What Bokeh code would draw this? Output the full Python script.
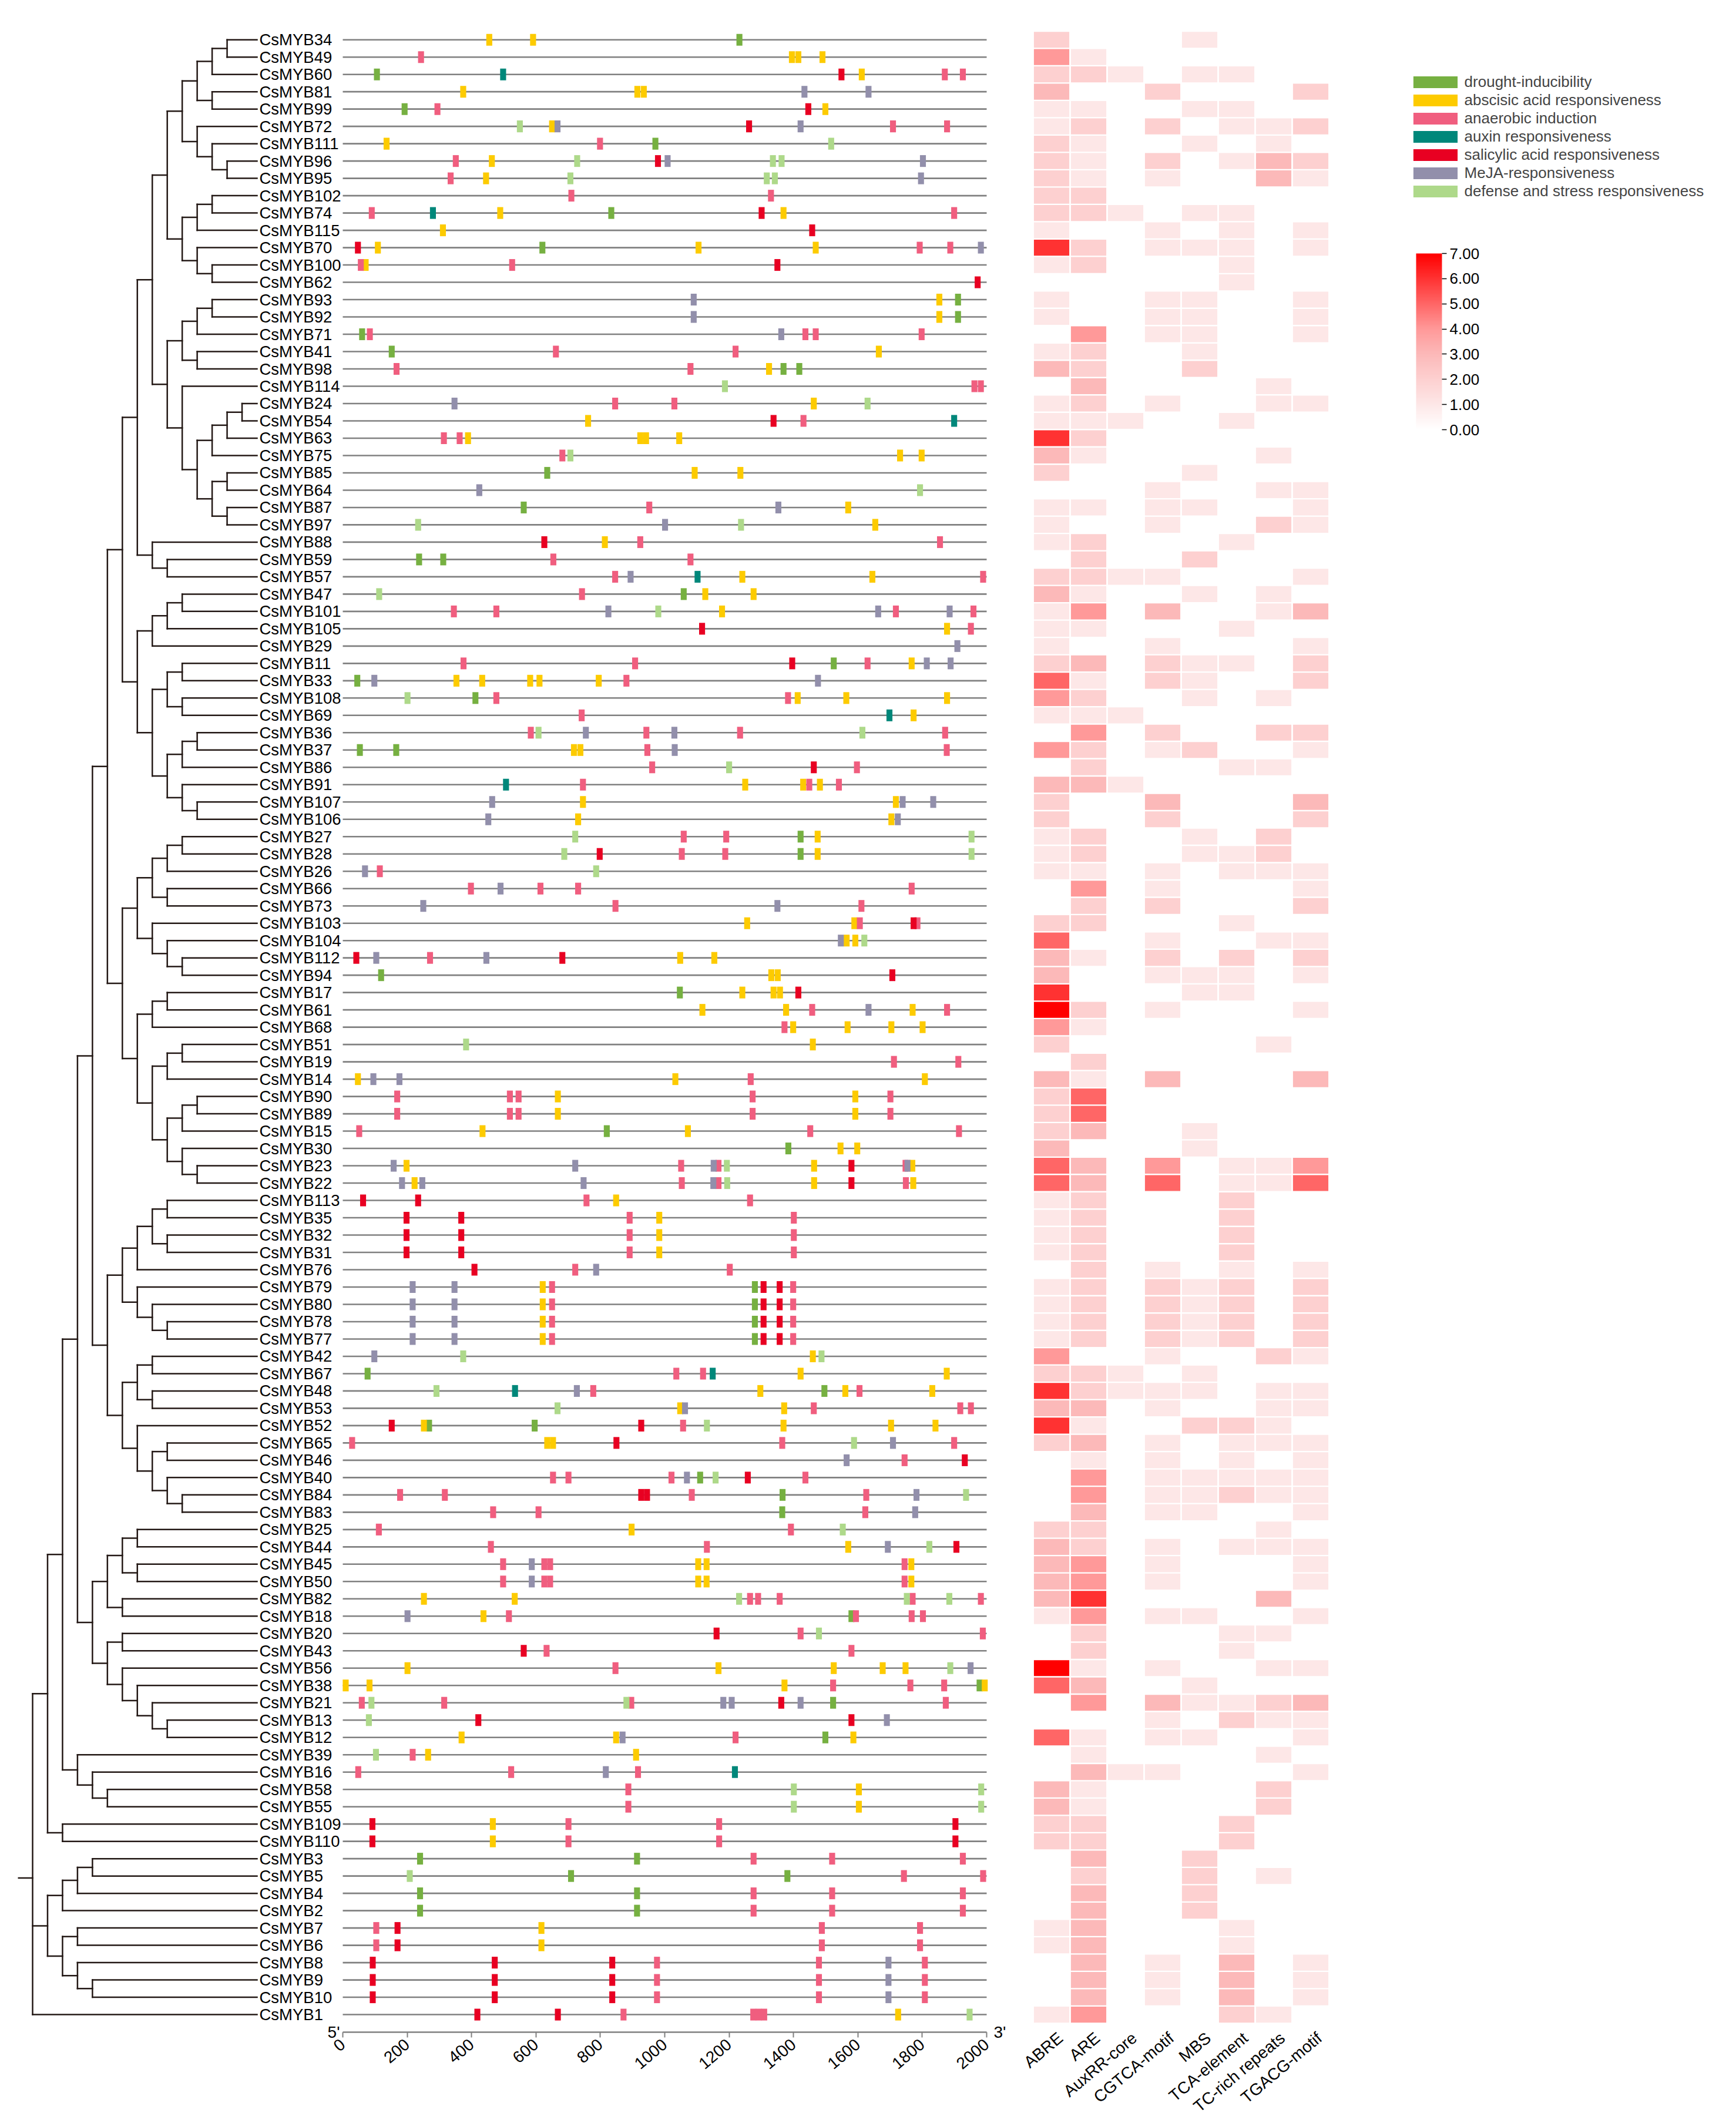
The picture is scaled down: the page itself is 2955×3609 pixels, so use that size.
import numpy as np
from bokeh.plotting import figure
from bokeh.models import (Range1d, LinearAxis, FixedTicker, ColumnDataSource,
                          Legend, LegendItem, LinearColorMapper, ColorBar, NumeralTickFormatter)
from bokeh.embed import file_html
from bokeh.resources import INLINE
from bokeh.core.properties import value

# ---------------- data ----------------
GENES = ["CsMYB34", "CsMYB49", "CsMYB60", "CsMYB81", "CsMYB99", "CsMYB72", "CsMYB111", "CsMYB96", "CsMYB95",
         "CsMYB102", "CsMYB74", "CsMYB115", "CsMYB70", "CsMYB100", "CsMYB62", "CsMYB93", "CsMYB92", "CsMYB71",
         "CsMYB41", "CsMYB98", "CsMYB114", "CsMYB24", "CsMYB54", "CsMYB63", "CsMYB75", "CsMYB85", "CsMYB64",
         "CsMYB87", "CsMYB97", "CsMYB88", "CsMYB59", "CsMYB57", "CsMYB47", "CsMYB101", "CsMYB105", "CsMYB29",
         "CsMYB11", "CsMYB33", "CsMYB108", "CsMYB69", "CsMYB36", "CsMYB37", "CsMYB86", "CsMYB91", "CsMYB107",
         "CsMYB106", "CsMYB27", "CsMYB28", "CsMYB26", "CsMYB66", "CsMYB73", "CsMYB103", "CsMYB104", "CsMYB112",
         "CsMYB94", "CsMYB17", "CsMYB61", "CsMYB68", "CsMYB51", "CsMYB19", "CsMYB14", "CsMYB90", "CsMYB89",
         "CsMYB15", "CsMYB30", "CsMYB23", "CsMYB22", "CsMYB113", "CsMYB35", "CsMYB32", "CsMYB31", "CsMYB76",
         "CsMYB79", "CsMYB80", "CsMYB78", "CsMYB77", "CsMYB42", "CsMYB67", "CsMYB48", "CsMYB53", "CsMYB52",
         "CsMYB65", "CsMYB46", "CsMYB40", "CsMYB84", "CsMYB83", "CsMYB25", "CsMYB44", "CsMYB45", "CsMYB50",
         "CsMYB82", "CsMYB18", "CsMYB20", "CsMYB43", "CsMYB56", "CsMYB38", "CsMYB21", "CsMYB13", "CsMYB12",
         "CsMYB39", "CsMYB16", "CsMYB58", "CsMYB55", "CsMYB109", "CsMYB110", "CsMYB3", "CsMYB5", "CsMYB4",
         "CsMYB2", "CsMYB7", "CsMYB6", "CsMYB8", "CsMYB9", "CsMYB10", "CsMYB1"]

# tree topology (leaves are row indices into GENES)
TREE = (
    (
        (
            (
                (
                    (
                        (
                            (
                                (
                                    ((((0, 1), 2), (3, 4)), (5, (6, (7, 8)))),
                                    (((9, 10), 11), (12, (13, 14))),
                                ),
                                (
                                    (((15, 16), 17), (18, 19)),
                                    (20, ((((21, 22), 23), 24), ((25, 26), (27, 28)))),
                                ),
                            ),
                            (29, (30, 31)),
                        ),
                        (
                            (((32, 33), 34), 35),
                            (((36, 37), (38, 39)), (((40, 41), 42), (43, (44, 45)))),
                        ),
                    ),
                    (
                        ((((46, 47), 48), (49, 50)), (51, (52, (53, 54)))),
                        (((55, 56), 57), (((58, 59), 60), (((61, 62), 63), (64, (65, 66))))),
                    ),
                ),
                (
                    ((((67, 68), (69, 70)), 71), (72, (73, (74, 75)))),
                    (((76, 77), (78, 79)), (80, ((81, 82), (83, (84, 85))))),
                ),
            ),
            (
                (((86, 87), (88, 89)), (90, 91)),
                ((92, 93), (94, (95, (96, (97, 98))))),
            ),
        ),
        (99, (100, (101, 102))),
    ),
    (103, 104),
)
TREE = (TREE, ((((105, 106), 107), 108), ((109, 110), (111, (112, 113)))), 114)

DROUGHT = {
    "CsMYB34": [1232], "CsMYB60": [106], "CsMYB99": [192], "CsMYB111": [971], "CsMYB74": [834],
    "CsMYB70": [620], "CsMYB93": [1911], "CsMYB92": [1911], "CsMYB71": [60], "CsMYB41": [152],
    "CsMYB98": [1369, 1418], "CsMYB85": [635], "CsMYB87": [562], "CsMYB59": [237, 312], "CsMYB47": [1059],
    "CsMYB11": [1525], "CsMYB33": [45], "CsMYB108": [412], "CsMYB37": [53, 166], "CsMYB27": [1422],
    "CsMYB28": [1422], "CsMYB94": [119], "CsMYB17": [1047], "CsMYB15": [820], "CsMYB30": [1384],
    "CsMYB79": [1280], "CsMYB80": [1280], "CsMYB78": [1280], "CsMYB77": [1280], "CsMYB67": [77],
    "CsMYB48": [1496], "CsMYB52": [268, 596], "CsMYB40": [1110], "CsMYB84": [1366], "CsMYB83": [1365],
    "CsMYB18": [1580], "CsMYB38": [1978], "CsMYB21": [1523], "CsMYB12": [1499],
    "CsMYB3": [240, 914], "CsMYB4": [240, 914], "CsMYB2": [240, 914], "CsMYB5": [709, 1381],
}
ABA = {
    "CsMYB34": [455, 591], "CsMYB49": [1395, 1415, 1490], "CsMYB60": [1612], "CsMYB81": [374, 915, 935],
    "CsMYB99": [1499], "CsMYB72": [650], "CsMYB111": [136], "CsMYB96": [463], "CsMYB95": [445],
    "CsMYB74": [489, 1369], "CsMYB115": [311], "CsMYB70": [109, 1105, 1469], "CsMYB100": [71],
    "CsMYB93": [1853], "CsMYB92": [1853], "CsMYB41": [1665], "CsMYB98": [1324], "CsMYB24": [1463],
    "CsMYB54": [762], "CsMYB63": [389, 924, 942, 1045], "CsMYB75": [1731, 1798], "CsMYB85": [1093, 1235],
    "CsMYB87": [1570], "CsMYB97": [1654], "CsMYB88": [814], "CsMYB57": [1241, 1645], "CsMYB47": [1126, 1276],
    "CsMYB101": [1178], "CsMYB105": [1877], "CsMYB11": [1767], "CsMYB33": [353, 433, 582, 611, 795],
    "CsMYB108": [1413, 1564, 1877], "CsMYB69": [1773], "CsMYB37": [718, 738], "CsMYB91": [1250, 1430, 1482],
    "CsMYB107": [746, 1718], "CsMYB106": [731, 1704], "CsMYB27": [1475], "CsMYB28": [1475],
    "CsMYB103": [1256, 1589], "CsMYB104": [1565, 1592], "CsMYB112": [1048, 1154], "CsMYB94": [1331, 1351],
    "CsMYB17": [1241, 1338, 1358], "CsMYB61": [1117, 1377, 1770], "CsMYB68": [1399, 1568, 1704, 1801],
    "CsMYB51": [1460], "CsMYB14": [47, 1033, 1808], "CsMYB90": [668, 1592], "CsMYB89": [668, 1592],
    "CsMYB15": [434, 1072], "CsMYB30": [1546, 1598], "CsMYB23": [198, 1464, 1769], "CsMYB22": [223, 1464, 1772],
    "CsMYB113": [849], "CsMYB35": [983], "CsMYB32": [983], "CsMYB31": [983],
    "CsMYB79": [621], "CsMYB80": [621], "CsMYB78": [621], "CsMYB77": [621], "CsMYB42": [1460],
    "CsMYB67": [1422, 1876], "CsMYB48": [1297, 1561, 1831], "CsMYB53": [1048, 1371],
    "CsMYB52": [252, 1369, 1703, 1841], "CsMYB65": [635, 653], "CsMYB25": [897], "CsMYB44": [1570],
    "CsMYB45": [1104, 1130, 1766], "CsMYB50": [1104, 1130, 1766], "CsMYB82": [252, 534], "CsMYB18": [437],
    "CsMYB56": [201, 1167, 1525, 1677, 1748], "CsMYB38": [9, 83, 1372, 1994], "CsMYB12": [369, 849, 1586],
    "CsMYB39": [265, 911], "CsMYB58": [1603], "CsMYB55": [1603], "CsMYB109": [466], "CsMYB110": [466],
    "CsMYB7": [617], "CsMYB6": [617], "CsMYB1": [1725],
}
ANAEROBIC = {
    "CsMYB49": [243], "CsMYB60": [1870, 1926], "CsMYB99": [294], "CsMYB72": [1709, 1877], "CsMYB111": [799],
    "CsMYB96": [351], "CsMYB95": [335], "CsMYB102": [710, 1330], "CsMYB74": [90, 1899], "CsMYB70": [1792, 1887],
    "CsMYB100": [56, 526], "CsMYB71": [84, 1437, 1469, 1798], "CsMYB41": [662, 1220], "CsMYB98": [167, 1080],
    "CsMYB114": [1962, 1982], "CsMYB24": [846, 1030], "CsMYB54": [1431], "CsMYB63": [314, 363], "CsMYB75": [682],
    "CsMYB87": [952], "CsMYB88": [924, 1855], "CsMYB59": [654, 1080], "CsMYB57": [846, 1989], "CsMYB47": [743],
    "CsMYB101": [345, 477, 1718, 1959], "CsMYB105": [1951], "CsMYB11": [375, 908, 1630], "CsMYB33": [881],
    "CsMYB108": [477, 1383], "CsMYB69": [742], "CsMYB36": [584, 943, 1234, 1871], "CsMYB37": [946, 1876],
    "CsMYB86": [961, 1597], "CsMYB91": [746, 1449, 1541], "CsMYB27": [1059, 1191], "CsMYB28": [1053, 1188],
    "CsMYB26": [115], "CsMYB66": [398, 614, 731, 1767], "CsMYB73": [847, 1611], "CsMYB103": [1606, 1785],
    "CsMYB112": [271], "CsMYB61": [1458, 1877], "CsMYB68": [1372], "CsMYB19": [1712, 1912], "CsMYB14": [1267],
    "CsMYB90": [169, 519, 546, 1273, 1701], "CsMYB89": [169, 519, 546, 1273, 1701], "CsMYB15": [51, 1452, 1914],
    "CsMYB23": [1051, 1167, 1748], "CsMYB22": [1053, 1167, 1749], "CsMYB113": [757, 1265],
    "CsMYB35": [891, 1401], "CsMYB32": [891, 1401], "CsMYB31": [891, 1401], "CsMYB76": [722, 1202],
    "CsMYB79": [650, 1399], "CsMYB80": [650, 1399], "CsMYB78": [650, 1399], "CsMYB77": [650, 1399],
    "CsMYB67": [1036, 1119], "CsMYB48": [778, 1605], "CsMYB53": [1463, 1918, 1951], "CsMYB52": [1057],
    "CsMYB65": [29, 1365, 1899], "CsMYB46": [1745], "CsMYB40": [653, 701, 1021, 1437],
    "CsMYB84": [178, 317, 1084, 1626], "CsMYB83": [467, 608, 1623], "CsMYB25": [112, 1392], "CsMYB44": [460, 1131],
    "CsMYB45": [498, 626, 644, 1745], "CsMYB50": [498, 626, 644, 1745], "CsMYB82": [1265, 1290, 1357, 1770, 1982],
    "CsMYB18": [516, 1594, 1767, 1802], "CsMYB20": [1422, 1988], "CsMYB43": [633, 1580], "CsMYB56": [847],
    "CsMYB38": [1523, 1763, 1868], "CsMYB21": [59, 315, 896, 1873], "CsMYB12": [1220], "CsMYB39": [217],
    "CsMYB16": [48, 523, 917], "CsMYB58": [887], "CsMYB55": [887], "CsMYB109": [701, 1169], "CsMYB110": [701, 1169],
    "CsMYB3": [1276, 1520, 1926], "CsMYB4": [1276, 1520, 1926], "CsMYB2": [1276, 1520, 1926], "CsMYB5": [1743, 1989],
    "CsMYB7": [104, 1488, 1793], "CsMYB6": [104, 1488, 1793], "CsMYB8": [976, 1479, 1808], "CsMYB9": [976, 1479, 1808],
    "CsMYB10": [976, 1479, 1808], "CsMYB1": [872, 1275, 1292, 1309],
}
AUXIN = {
    "CsMYB60": [498], "CsMYB74": [280], "CsMYB54": [1899], "CsMYB57": [1102], "CsMYB69": [1698],
    "CsMYB91": [507], "CsMYB67": [1149], "CsMYB48": [535], "CsMYB16": [1218],
}
SALICYLIC = {
    "CsMYB60": [1549], "CsMYB99": [1446], "CsMYB72": [1262], "CsMYB96": [979], "CsMYB74": [1301], "CsMYB115": [1458],
    "CsMYB70": [47], "CsMYB100": [1350], "CsMYB62": [1972], "CsMYB54": [1338], "CsMYB88": [626], "CsMYB105": [1116],
    "CsMYB11": [1396], "CsMYB86": [1463], "CsMYB28": [798], "CsMYB103": [1773], "CsMYB112": [42, 682], "CsMYB94": [1707],
    "CsMYB17": [1415], "CsMYB23": [1580], "CsMYB22": [1580], "CsMYB113": [63, 234], "CsMYB35": [198, 368],
    "CsMYB32": [198, 368], "CsMYB31": [198, 368], "CsMYB76": [409], "CsMYB79": [1307, 1357], "CsMYB80": [1307, 1357],
    "CsMYB78": [1307, 1357], "CsMYB77": [1307, 1357], "CsMYB52": [152, 927], "CsMYB65": [850], "CsMYB46": [1932],
    "CsMYB40": [1258], "CsMYB84": [927, 945], "CsMYB44": [1906], "CsMYB20": [1161], "CsMYB43": [562], "CsMYB21": [1362],
    "CsMYB13": [421, 1580], "CsMYB109": [92, 1903], "CsMYB110": [92, 1903], "CsMYB7": [170], "CsMYB6": [170],
    "CsMYB8": [93, 472, 837], "CsMYB9": [93, 472, 837], "CsMYB10": [93, 472, 837], "CsMYB1": [418, 668],
}
MEJA = {
    "CsMYB81": [1434, 1633], "CsMYB72": [667, 1422], "CsMYB96": [1009, 1802], "CsMYB95": [1796], "CsMYB70": [1982],
    "CsMYB93": [1090], "CsMYB92": [1090], "CsMYB71": [1362], "CsMYB24": [347], "CsMYB64": [424], "CsMYB87": [1353],
    "CsMYB97": [1001], "CsMYB57": [894], "CsMYB101": [825, 1663, 1885], "CsMYB29": [1909], "CsMYB11": [1814, 1888],
    "CsMYB33": [98, 1476], "CsMYB36": [755, 1030], "CsMYB37": [1031], "CsMYB107": [464, 1739, 1834],
    "CsMYB106": [452, 1724], "CsMYB26": [69], "CsMYB66": [490], "CsMYB73": [250, 1350], "CsMYB104": [1547],
    "CsMYB112": [104, 446], "CsMYB61": [1633], "CsMYB14": [95, 176], "CsMYB23": [158, 722, 1152, 1754],
    "CsMYB22": [184, 247, 748, 1151], "CsMYB76": [787], "CsMYB79": [217, 347], "CsMYB80": [217, 347],
    "CsMYB78": [217, 347], "CsMYB77": [217, 347], "CsMYB42": [98], "CsMYB48": [727], "CsMYB53": [1063],
    "CsMYB65": [1709], "CsMYB46": [1565], "CsMYB40": [1069], "CsMYB84": [1782], "CsMYB83": [1778], "CsMYB44": [1693],
    "CsMYB45": [587], "CsMYB50": [587], "CsMYB18": [201], "CsMYB56": [1950], "CsMYB21": [1182, 1208, 1422],
    "CsMYB13": [1690], "CsMYB12": [869], "CsMYB16": [817], "CsMYB8": [1695], "CsMYB9": [1695], "CsMYB10": [1695],
}
DEFENSE = {
    "CsMYB72": [550], "CsMYB111": [1517], "CsMYB96": [728, 1336, 1363], "CsMYB95": [707, 1317, 1342], "CsMYB114": [1187],
    "CsMYB24": [1630], "CsMYB75": [707], "CsMYB64": [1793], "CsMYB97": [234, 1237], "CsMYB47": [113], "CsMYB101": [980],
    "CsMYB108": [201], "CsMYB36": [608, 1614], "CsMYB86": [1200], "CsMYB27": [722, 1953], "CsMYB28": [688, 1953],
    "CsMYB26": [787], "CsMYB104": [1620], "CsMYB51": [383], "CsMYB23": [1193], "CsMYB22": [1194], "CsMYB42": [374, 1487],
    "CsMYB48": [291], "CsMYB53": [667], "CsMYB52": [1131], "CsMYB65": [1588], "CsMYB40": [1158], "CsMYB84": [1936],
    "CsMYB25": [1553], "CsMYB44": [1822], "CsMYB82": [1231, 1752, 1884], "CsMYB20": [1479], "CsMYB56": [1887],
    "CsMYB21": [89, 881], "CsMYB13": [81], "CsMYB39": [103], "CsMYB58": [1401, 1983], "CsMYB55": [1401, 1983],
    "CsMYB5": [208], "CsMYB1": [1947],
}

HEAT_COLUMNS = ["ABRE", "ARE", "AuxRR-core", "CGTCA-motif", "MBS", "TCA-element", "TC-rich repeats", "TGACG-motif"]
ABRE = [2, 4, 2, 3, 1, 1, 2, 2, 2, 2, 2, 1, 6, 1, 0, 1, 1, 0, 1, 3, 0, 1, 1, 6, 3, 2, 0, 1, 1, 1,
        0, 2, 3, 1, 1, 1, 2, 5, 4, 1, 0, 4, 0, 3, 2, 2, 1, 1, 1, 0, 0, 2, 5, 3, 3, 6, 7, 4, 2, 0,
        3, 2, 2, 2, 3, 5, 5, 1, 1, 1, 1, 0, 1, 1, 1, 1, 4, 2, 6, 3, 6, 2, 0, 0, 0, 0, 2, 3, 3, 3,
        3, 1, 0, 0, 7, 5, 0, 0, 5, 0, 0, 3, 3, 2, 2, 0, 0, 0, 0, 1, 1, 0, 0, 0, 1]
ARE = [0, 1, 2, 0, 1, 2, 1, 1, 1, 2, 2, 0, 2, 2, 0, 0, 0, 4, 2, 2, 3, 2, 1, 2, 1, 0, 0, 1, 0, 2,
       2, 2, 1, 4, 1, 0, 3, 1, 2, 1, 4, 2, 2, 3, 0, 0, 2, 2, 1, 4, 2, 2, 0, 1, 0, 0, 2, 1, 0, 2,
       1, 5, 5, 3, 0, 3, 3, 2, 2, 2, 2, 2, 2, 2, 2, 2, 0, 2, 2, 3, 1, 3, 1, 4, 4, 3, 2, 2, 4, 4,
       6, 4, 2, 2, 1, 3, 4, 0, 1, 1, 3, 1, 1, 2, 2, 3, 2, 3, 3, 3, 3, 3, 3, 3, 4]
AUXRR_CORE = [0, 0, 1, 0, 0, 0, 0, 0, 0, 0, 1, 0, 0, 0, 0, 0, 0, 0, 0, 0, 0, 0, 1, 0, 0, 0, 0, 0, 0, 0,
              0, 1, 0, 0, 0, 0, 0, 0, 0, 1, 0, 0, 0, 1, 0, 0, 0, 0, 0, 0, 0, 0, 0, 0, 0, 0, 0, 0, 0, 0,
              0, 0, 0, 0, 0, 0, 0, 0, 0, 0, 0, 0, 0, 0, 0, 0, 0, 1, 1, 0, 0, 0, 0, 0, 0, 0, 0, 0, 0, 0,
              0, 0, 0, 0, 0, 0, 0, 0, 0, 0, 1, 0, 0, 0, 0, 0, 0, 0, 0, 0, 0, 0, 0, 0, 0]
CGTCA_MOTIF = [0, 0, 0, 2, 0, 2, 0, 2, 1, 0, 0, 1, 1, 0, 0, 1, 1, 1, 0, 0, 0, 1, 0, 0, 0, 0, 1, 1, 1, 0,
               0, 1, 0, 3, 0, 1, 2, 2, 0, 0, 2, 1, 0, 0, 3, 2, 0, 0, 1, 1, 2, 0, 1, 2, 1, 0, 1, 0, 0, 0,
               3, 0, 0, 0, 0, 4, 5, 0, 0, 0, 0, 1, 2, 2, 2, 2, 1, 0, 1, 1, 0, 1, 1, 1, 1, 1, 0, 1, 1, 1,
               0, 1, 0, 0, 1, 0, 3, 1, 1, 0, 1, 0, 0, 0, 0, 0, 0, 0, 0, 0, 0, 1, 1, 1, 0]
MBS = [1, 0, 1, 0, 1, 0, 1, 0, 0, 0, 1, 0, 1, 0, 0, 1, 1, 1, 1, 2, 0, 0, 0, 0, 0, 1, 0, 1, 0, 0,
       2, 0, 1, 0, 0, 0, 1, 1, 1, 0, 0, 2, 0, 0, 0, 0, 1, 1, 0, 0, 0, 0, 0, 0, 1, 1, 0, 0, 0, 0,
       0, 0, 0, 1, 1, 0, 0, 0, 0, 0, 0, 0, 1, 1, 1, 1, 0, 1, 1, 0, 2, 0, 0, 1, 1, 1, 0, 0, 0, 0,
       0, 1, 0, 0, 0, 1, 1, 0, 1, 0, 0, 0, 0, 0, 0, 2, 2, 2, 2, 0, 0, 0, 0, 0, 0]
TCA_ELEMENT = [0, 0, 1, 0, 1, 1, 0, 1, 0, 0, 1, 1, 1, 1, 1, 0, 0, 0, 0, 0, 0, 0, 1, 0, 0, 0, 0, 0, 0, 1,
               0, 0, 0, 0, 1, 0, 1, 0, 0, 0, 0, 0, 1, 0, 0, 0, 0, 1, 1, 0, 0, 1, 0, 2, 1, 1, 0, 0, 0, 0,
               0, 0, 0, 0, 0, 1, 1, 2, 2, 2, 2, 1, 2, 2, 2, 2, 0, 0, 0, 0, 2, 1, 1, 1, 2, 0, 0, 1, 0, 0,
               0, 0, 1, 1, 0, 0, 1, 2, 0, 0, 0, 0, 0, 2, 2, 0, 0, 0, 0, 1, 1, 3, 3, 3, 2]
TC_RICH = [0, 0, 0, 0, 0, 1, 1, 3, 3, 0, 0, 0, 0, 0, 0, 0, 0, 0, 0, 0, 1, 1, 0, 0, 1, 0, 1, 0, 2, 0,
           0, 0, 1, 1, 0, 0, 0, 0, 1, 0, 2, 0, 1, 0, 0, 0, 2, 2, 1, 0, 0, 0, 1, 0, 0, 0, 0, 0, 1, 0,
           0, 0, 0, 0, 0, 1, 1, 0, 0, 0, 0, 0, 0, 0, 0, 0, 2, 0, 1, 1, 1, 1, 0, 1, 1, 0, 1, 1, 0, 0,
           3, 0, 1, 0, 1, 0, 2, 1, 0, 1, 0, 2, 2, 0, 0, 0, 1, 0, 0, 0, 0, 0, 0, 0, 1]
TGACG_MOTIF = [0, 0, 0, 2, 0, 2, 0, 2, 1, 0, 0, 1, 1, 0, 0, 1, 1, 1, 0, 0, 0, 1, 0, 0, 0, 0, 1, 1, 1, 0,
               0, 1, 0, 3, 0, 1, 2, 2, 0, 0, 2, 1, 0, 0, 3, 2, 0, 0, 1, 1, 2, 0, 1, 2, 1, 0, 1, 0, 0, 0,
               3, 0, 0, 0, 0, 4, 5, 0, 0, 0, 0, 1, 2, 2, 2, 2, 1, 0, 1, 1, 0, 1, 1, 1, 1, 1, 0, 1, 1, 1,
               0, 1, 0, 0, 1, 0, 3, 1, 1, 0, 1, 0, 0, 0, 0, 0, 0, 0, 0, 0, 0, 1, 1, 1, 0]
HEAT_VALUES = [ABRE, ARE, AUXRR_CORE, CGTCA_MOTIF, MBS, TCA_ELEMENT, TC_RICH, TGACG_MOTIF]

BP_TICKS = [0, 200, 400, 600, 800, 1000, 1200, 1400, 1600, 1800, 2000]
CBAR_TICKS = [0, 1, 2, 3, 4, 5, 6, 7]
END_LABELS = ["5'", "3'"]

ELEMENT_TYPES = [
    ("drought-inducibility", DROUGHT, "#76B041"),
    ("abscisic acid responsiveness", ABA, "#FDCB00"),
    ("anaerobic induction", ANAEROBIC, "#F05E7F"),
    ("auxin responsiveness", AUXIN, "#00877A"),
    ("salicylic acid responsiveness", SALICYLIC, "#E80022"),
    ("MeJA-responsiveness", MEJA, "#928FAB"),
    ("defense and stress responsiveness", DEFENSE, "#AED98A"),
]

# ---------------- layout (page pixels; bokeh page has no body margin) ----------------
FONT = "Liberation Sans"
FS = "26px"
FS_BIG = "28px"
W, H = 2950, 3605
FR_L, FR_R, FR_T, FR_B = 30.0, float(W), 23.0, float(H)
ROW0_Y, ROW_STEP = 67.2, 29.49
AXIS_Y = 3459.0
BP0_X, BP2000_X = 583.0, 1679.0
TREE0_X, LEAF_X, LEAF_DEPTH = 55.0, 437.0, 15
HEAT0_X, HEAT_COL_W = 1758.0, 63.0

bp_per_px = 2000.0 / (BP2000_X - BP0_X)
depth_px = (LEAF_X - TREE0_X) / LEAF_DEPTH
x_range = Range1d((FR_L - BP0_X) * bp_per_px, (FR_R - BP0_X) * bp_per_px)
tree_range = Range1d((FR_L - TREE0_X) / depth_px, (FR_R - TREE0_X) / depth_px)
heat_range = Range1d((FR_L - HEAT0_X) / HEAT_COL_W, (FR_R - HEAT0_X) / HEAT_COL_W)
y_range = Range1d((FR_B - ROW0_Y) / ROW_STEP, (FR_T - ROW0_Y) / ROW_STEP)
AXIS_ROW = (AXIS_Y - ROW0_Y) / ROW_STEP

p = figure(width=W, height=H, x_range=x_range, y_range=y_range, output_backend="svg",
           toolbar_location=None, x_axis_location=None, y_axis_location=None, title_location=None,
           min_border_left=int(FR_L), min_border_right=0, min_border_top=int(FR_T), min_border_bottom=0)
p.extra_x_ranges = {"tree": tree_range, "heat": heat_range}
p.outline_line_color = None
for g in p.grid:
    g.visible = False
p.background_fill_color = "white"

n = len(GENES)
rows = list(range(n))
row_of = {g: i for i, g in enumerate(GENES)}

# ---- tree ----
segs = []


def walk(node, depth):
    if isinstance(node, int):
        return float(node), float(LEAF_DEPTH)
    ys = []
    for child in node:
        cy, cx = walk(child, depth + 1)
        segs.append((depth, cy, cx, cy))
        ys.append(cy)
    segs.append((depth, min(ys), depth, max(ys)))
    return sum(ys) / len(ys), float(depth)


root_y, _ = walk(TREE, 0)
segs.append((-1.0, root_y, 0.0, root_y))
p.segment(x0=[s[0] for s in segs], y0=[s[1] for s in segs], x1=[s[2] for s in segs], y1=[s[3] for s in segs],
          x_range_name="tree", line_color="#231815", line_width=2.5, line_cap="square")

# ---- gene labels ----
p.text(x=[LEAF_DEPTH] * n, y=rows, text=GENES, x_range_name="tree", x_offset=4,
       text_baseline="middle", text_align="left", text_font=value(FONT), text_font_size=value("27.5px"),
       text_color="black")

# ---- promoter lines ----
p.segment(x0=[0] * n, x1=[2000] * n, y0=rows, y1=rows, line_color="#808080", line_width=2.6)

# ---- elements ----
items = []
for label, table, color in ELEMENT_TYPES:
    xs, ys = [], []
    for gene, positions in table.items():
        for pos in positions:
            xs.append(pos)
            ys.append(row_of[gene])
    r = p.rect(x=xs, y=ys, width=18.5, height=0.68, fill_color=color, line_color=None)
    items.append(LegendItem(label=label, renderers=[r]))

# ---- heatmap ----
anchors = ["#FFFFFF", "#FDE7E7", "#FDD0D0", "#FCB9B9", "#FF9999", "#FF6666", "#FF3333", "#FF0000"]
arr = np.array([[int(a[i:i + 2], 16) for i in (1, 3, 5)] for a in anchors], dtype=float)
palette = []
for tv in np.linspace(0, 7, 256):
    k = min(int(np.floor(tv)), 6)
    f = tv - k
    c = arr[k] * (1 - f) + arr[k + 1] * f
    palette.append("#%02X%02X%02X" % tuple(int(round(v)) for v in c))
mapper = LinearColorMapper(palette=palette, low=0, high=7)

hx, hy, hv = [], [], []
for ci, col in enumerate(HEAT_VALUES):
    for ri, v in enumerate(col):
        hx.append(ci + 0.5)
        hy.append(ri)
        hv.append(v)
hsrc = ColumnDataSource(dict(x=hx, y=hy, v=hv))
p.rect(x="x", y="y", width=0.955, height=0.92, source=hsrc, x_range_name="heat",
       fill_color={"field": "v", "transform": mapper}, line_color=None)

# ---- heatmap column labels ----
p.text(x=[i + 0.74 for i in range(len(HEAT_COLUMNS))], y=[AXIS_ROW + 0.2] * len(HEAT_COLUMNS),
       text=HEAT_COLUMNS, x_range_name="heat", angle=0.70, text_align="right", text_baseline="middle",
       text_font=value(FONT), text_font_size=value(FS_BIG), text_color="black")

# ---- bp axis (drawn at a fixed row position inside the frame) ----
ax = LinearAxis(bounds=(0, 2000), ticker=FixedTicker(ticks=BP_TICKS), fixed_location=AXIS_ROW)
ax.axis_line_color = "#808080"
ax.axis_line_width = 2.6
ax.major_tick_line_color = "#808080"
ax.major_tick_line_width = 2
ax.major_tick_out = 9
ax.major_tick_in = 0
ax.minor_tick_out = 0
ax.minor_tick_in = 0
ax.major_label_orientation = 0.70
ax.major_label_standoff = 8
ax.major_label_text_font = FONT
ax.major_label_text_font_size = FS_BIG
ax.major_label_text_color = "black"
p.add_layout(ax, "below")

p.text(x=[0], y=[AXIS_ROW], text=[END_LABELS[0]], x_offset=-5, text_align="right", text_baseline="middle",
       text_font=value(FONT), text_font_size=value(FS_BIG), text_color="black")
p.text(x=[2000], y=[AXIS_ROW], text=[END_LABELS[1]], x_offset=12, text_align="left", text_baseline="middle",
       text_font=value(FONT), text_font_size=value(FS_BIG), text_color="black")

# ---- legend ----
legend = Legend(items=items, location=(2395.6 - FR_L, FR_B - 340.9), glyph_width=94, glyph_height=25,
                label_text_font=FONT, label_text_font_size=FS, label_standoff=3, spacing=0,
                padding=0, margin=0, border_line_color=None, background_fill_alpha=0)
p.add_layout(legend)

# ---- color bar ----
cb = ColorBar(color_mapper=mapper, ticker=FixedTicker(ticks=CBAR_TICKS),
              formatter=NumeralTickFormatter(format="0.00"), orientation="vertical",
              location=(2410 - FR_L, FR_B - 731), width=44, height=300, padding=0,
              major_tick_in=0, major_tick_out=8, major_tick_line_color="black", major_tick_line_width=1.5,
              minor_tick_line_color=None, label_standoff=5,
              major_label_text_font=FONT, major_label_text_font_size=FS, major_label_text_color="black",
              bar_line_color=None, border_line_color=None, background_fill_alpha=0)
p.add_layout(cb)

open("out.html", "w").write(file_html(p, INLINE))
